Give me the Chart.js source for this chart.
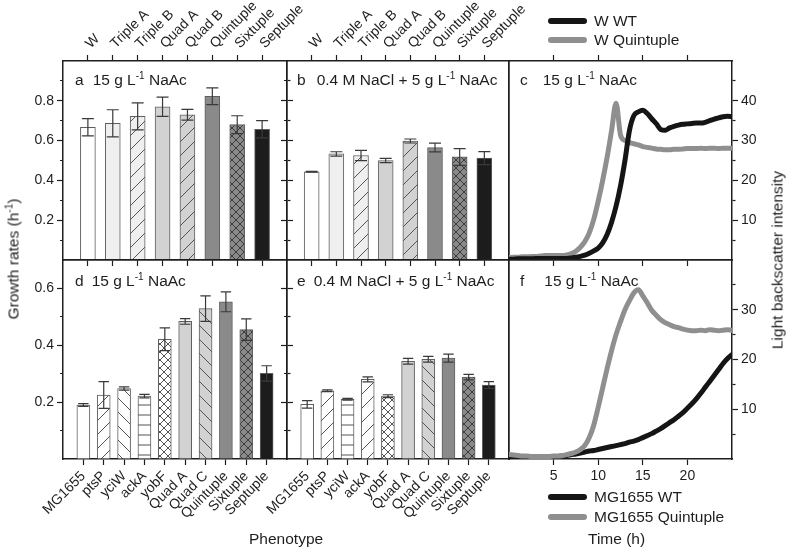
<!DOCTYPE html>
<html>
<head>
<meta charset="utf-8">
<script src="https://cdn.jsdelivr.net/npm/chart.js@4/dist/chart.umd.min.js"></script>
<style>
  body { margin: 0; background: #fff; }
  #wrap { position: relative; width: 787px; height: 548px; font-family: 'Liberation Sans', Arial, sans-serif; color: #1e1e1e; }
  #wrap canvas { position: absolute; left: 0; top: 0; }
  .txt { position: absolute; font-size: 15.5px; line-height: 17px; white-space: nowrap; }
  .txt sup { font-size: 10px; vertical-align: 6px; line-height: 0; }
  .vert { transform: translate(-50%, -50%) rotate(-90deg); }
  .sw { position: absolute; width: 39px; height: 6px; border-radius: 3px; }
</style>
</head>
<body>
<div id="wrap">
  <canvas id="pa" width="787" height="548"></canvas>
  <canvas id="pb" width="787" height="548"></canvas>
  <canvas id="pc" width="787" height="548"></canvas>
  <canvas id="pd" width="787" height="548"></canvas>
  <canvas id="pe" width="787" height="548"></canvas>
  <canvas id="pf" width="787" height="548"></canvas>

  <div class="txt" style="left:75px;top:71px">a<span style="margin-left:9px">15 g L<sup>-1</sup> NaAc</span></div>
  <div class="txt" style="left:297px;top:71px">b<span style="margin-left:11px">0.4 M NaCl + 5 g L<sup>-1</sup> NaAc</span></div>
  <div class="txt" style="left:520px;top:71px">c<span style="margin-left:15px">15 g L<sup>-1</sup> NaAc</span></div>
  <div class="txt" style="left:75px;top:272px">d<span style="margin-left:8px">15 g L<sup>-1</sup> NaAc</span></div>
  <div class="txt" style="left:297px;top:272px">e<span style="margin-left:8px">0.4 M NaCl + 5 g L<sup>-1</sup> NaAc</span></div>
  <div class="txt" style="left:520px;top:272px">f<span style="margin-left:20px">15 g L<sup>-1</sup> NaAc</span></div>

  <div class="sw" style="left:548px;top:18px;background:#151515"></div>
  <div class="txt" style="left:594px;top:12px">W WT</div>
  <div class="sw" style="left:548px;top:37px;background:#8f8f8f"></div>
  <div class="txt" style="left:594px;top:31px">W Quintuple</div>

  <div class="sw" style="left:548px;top:494px;background:#151515"></div>
  <div class="txt" style="left:594px;top:488px">MG1655 WT</div>
  <div class="sw" style="left:548px;top:514px;background:#8f8f8f"></div>
  <div class="txt" style="left:594px;top:508px">MG1655 Quintuple</div>

  <div class="txt" style="left:588px;top:530px">Time (h)</div>
  <div class="txt" style="left:249px;top:530px">Phenotype</div>
  <div class="txt vert" style="left:13px;top:259px">Growth rates (h<sup>-1</sup>)</div>
  <div class="txt vert" style="left:777px;top:260px">Light backscatter intensity</div>
</div>

<script>
// strains of the W background (panels a, b)
const strainsW = ['W', 'Triple A', 'Triple B', 'Quad A', 'Quad B', 'Quintuple', 'Sixtuple', 'Septuple'];
const rateA = [0.667, 0.687, 0.722, 0.770, 0.730, 0.823, 0.680, 0.657];
const errA  = [0.043, 0.068, 0.068, 0.048, 0.027, 0.042, 0.045, 0.043];
const rateB = [0.443, 0.533, 0.525, 0.500, 0.598, 0.565, 0.518, 0.512];
const errB  = [0.002, 0.011, 0.026, 0.011, 0.010, 0.022, 0.042, 0.033];

// strains of the MG1655 background (panels d, e)
const strainsMG = ['MG1655', 'ptsP', 'yciW', 'ackA', 'yobF', 'Quad A', 'Quad C', 'Quintuple', 'Sixtuple', 'Septuple'];
const rateD = [0.190, 0.225, 0.248, 0.221, 0.421, 0.484, 0.529, 0.553, 0.455, 0.301];
const errD  = [0.005, 0.047, 0.006, 0.006, 0.040, 0.010, 0.045, 0.035, 0.038, 0.027];
const rateE = [0.192, 0.240, 0.210, 0.280, 0.221, 0.344, 0.351, 0.355, 0.288, 0.260];
const errE  = [0.013, 0.003, 0.003, 0.009, 0.005, 0.010, 0.010, 0.014, 0.010, 0.012];

// backscatter curves (panels c, f)
const hours = [0, 0.5, 1, 1.5, 2, 2.5, 3, 3.5, 4, 4.5, 5, 5.5, 6, 6.5, 7, 7.5, 8, 8.5, 9, 9.5,
  10, 10.5, 11, 11.5, 12, 12.5, 13, 13.5, 14, 14.5, 15, 15.5, 16, 16.5, 17, 17.5, 18, 18.5, 19, 19.5,
  20, 20.5, 21, 21.5, 22, 22.5, 23, 23.5, 24, 24.5, 25];
const wWT = [0.2, 0.2, 0.3, 0.3, 0.3, 0.3, 0.4, 0.4, 0.4, 0.4, 0.4, 0.4, 0.4, 0.4, 0.5, 0.7, 0.9, 1.2, 1.7, 2.3,
  3.0, 4.3, 6.4, 9.5, 13.5, 18.6, 25.0, 32.5, 36.3, 37.2, 37.6, 36.8, 35.5, 34.3, 32.8, 32.6, 33.2, 33.6, 33.9, 34.1,
  34.2, 34.3, 34.4, 34.4, 34.6, 35.0, 35.4, 35.7, 36.0, 36.1, 36.0];
const wQuint = [0.6, 0.7, 0.7, 0.8, 0.8, 0.9, 0.9, 1.0, 1.1, 1.1, 1.1, 1.1, 1.1, 1.3, 1.6, 2.2, 3.2, 4.6, 6.8, 10.2,
  14.8, 20.0, 25.8, 32.5, 39.4, 31.4, 30.0, 29.5, 29.2, 28.9, 28.5, 28.3, 28.1, 27.9, 27.8, 27.7, 27.7, 27.8, 27.8, 27.9,
  28.0, 28.0, 28.0, 28.1, 28.0, 28.1, 28.1, 28.0, 28.1, 28.1, 28.1];
const mgWT = [0.3, 0.3, 0.3, 0.3, 0.3, 0.3, 0.3, 0.4, 0.4, 0.4, 0.4, 0.5, 0.6, 0.7, 0.9, 1.0, 1.2, 1.4, 1.6, 1.7,
  1.9, 2.1, 2.3, 2.5, 2.7, 2.9, 3.1, 3.4, 3.6, 3.9, 4.3, 4.7, 5.1, 5.6, 6.1, 6.7, 7.3, 7.9, 8.6, 9.3,
  10.2, 11.1, 12.1, 13.2, 14.4, 15.6, 16.8, 18.0, 19.2, 20.2, 21.0];
const mgQuint = [0.9, 0.8, 0.7, 0.6, 0.6, 0.5, 0.5, 0.5, 0.5, 0.5, 0.6, 0.6, 0.7, 0.9, 1.1, 1.4, 1.9, 2.7, 4.3, 6.8,
  10.4, 14.3, 18.2, 21.8, 25.0, 27.6, 30.0, 31.8, 33.4, 34.0, 32.8, 31.4, 29.9, 28.9, 28.0, 27.4, 27.0, 26.6, 26.4, 26.1,
  25.9, 25.8, 25.8, 25.9, 25.8, 26.0, 25.9, 25.8, 25.9, 26.0, 25.9];

// bar fills: "tone hatch"
const fillsW = ['white', 'pale', 'pale /', 'light', 'light /', 'dark', 'dark x', 'black'];
const fillsD = ['white', 'white /', 'white \\', 'white =', 'white x', 'light', 'light \\', 'dark', 'dark x', 'black'];
const fillsE = ['white', 'white /', 'white =', 'white /', 'white x', 'light', 'light \\', 'dark', 'dark x', 'black'];

const W = 787, H = 548;
const INK = '#1e1e1e';
Chart.defaults.font.family = "'Liberation Sans', Arial, sans-serif";
Chart.defaults.font.size = 14;
Chart.defaults.color = INK;

const tones = { white: '#ffffff', pale: '#efefef', light: '#d2d2d2', dark: '#8a8a8a', black: '#1c1c1c' };

function hatch(bg, mark, ink) {
  const s = mark === 'x' ? 8 : mark === '=' ? 10 : 14;
  const c = document.createElement('canvas');
  c.width = c.height = s;
  const g = c.getContext('2d');
  g.fillStyle = bg;
  g.fillRect(0, 0, s, s);
  g.strokeStyle = ink;
  g.lineWidth = 1;
  g.beginPath();
  if (mark === '/' || mark === 'x') {
    g.moveTo(-1, s + 1); g.lineTo(s + 1, -1);
    g.moveTo(-1, 1); g.lineTo(1, -1);
    g.moveTo(s - 1, s + 1); g.lineTo(s + 1, s - 1);
  }
  if (mark === '\\' || mark === 'x') {
    g.moveTo(-1, -1); g.lineTo(s + 1, s + 1);
    g.moveTo(s - 1, -1); g.lineTo(s + 1, 1);
    g.moveTo(-1, s - 1); g.lineTo(1, s + 1);
  }
  if (mark === '=') { g.moveTo(0, s / 2); g.lineTo(s, s / 2); }
  g.stroke();
  return g.createPattern(c, 'repeat');
}

function fillFor(key) {
  const [tone, mark] = key.split(' ');
  if (!mark) return tones[tone];
  return hatch(tones[tone], mark, tone === 'dark' ? '#3c3c3c' : '#555');
}

// error bars drawn from the dataset values through the scales
const errorBars = {
  id: 'errorBars',
  afterDatasetsDraw(chart) {
    const ds = chart.data.datasets[0];
    if (!ds.errors) return;
    const { ctx } = chart;
    const x = chart.scales.x, y = chart.scales.y;
    const meta = chart.getDatasetMeta(0);
    ctx.save();
    ctx.strokeStyle = '#3a3a3a';
    ctx.lineWidth = 1.2;
    meta.data.forEach((bar, i) => {
      const v = ds.data[i].y, e = ds.errors[i];
      const px = x.getPixelForValue(ds.data[i].x);
      const top = y.getPixelForValue(v + e), bot = y.getPixelForValue(v - e);
      const w = bar.width * 0.4;
      ctx.beginPath();
      ctx.moveTo(px, top); ctx.lineTo(px, bot);
      ctx.moveTo(px - w, top); ctx.lineTo(px + w, top);
      ctx.moveTo(px - w, bot); ctx.lineTo(px + w, bot);
      ctx.stroke();
    });
    ctx.restore();
  }
};

// one axis per side: frame line, tick marks (minor ones shortened with a dash) and labels
function axis(position, min, max, step, o = {}) {
  const inside = v => v > min + 1e-6 && v < max - 1e-6;
  const marked = v => o.mark !== false && inside(v);
  const major = v => !o.major || Math.abs(v / o.major - Math.round(v / o.major)) < 1e-6;
  const outerFirst = position === 'left' || position === 'top';
  return {
    type: 'linear', position, min, max, offset: false,
    afterFit: s => { if (s.isHorizontal()) s.height = o.size || 0; else s.width = o.size || 0; },
    border: { display: true, color: INK, width: 1.5 },
    grid: {
      drawOnChartArea: false, offset: false, tickLength: 6, tickWidth: 1.2,
      tickColor: c => (c.tick && marked(c.tick.value)) ? INK : 'rgba(0,0,0,0)',
      tickBorderDash: c => (c.tick && !major(c.tick.value)) ? (outerFirst ? [0, 3, 20, 0] : [3, 20]) : []
    },
    ticks: {
      display: !!o.fmt, stepSize: step, autoSkip: false, padding: 3, color: INK,
      minRotation: o.rot || 0, maxRotation: o.rot || 0, labelOffset: o.shift || 0,
      callback: v => (o.fmt && marked(v) && major(v)) ? o.fmt(v) : ''
    }
  };
}

// box = [left, top, right, bottom] of the plot frame; sz = room taken by labelled axes
function frame(box, sz) {
  return {
    responsive: false,
    animation: false,
    events: [],
    layout: { padding: {
      left: box[0] - (sz.left || 0), top: box[1] - (sz.top || 0),
      right: W - box[2] - (sz.right || 0), bottom: H - box[3] - (sz.bottom || 0)
    } },
    plugins: { legend: { display: false }, tooltip: { enabled: false } }
  };
}

function barPanel(id, box, cats, rates, errs, fills, yMax, barW, o) {
  const n = cats.length;
  const dec = v => v.toFixed(1);
  const name = v => cats[v] || '';
  const sz = {
    left: o.yLabels ? box[0] : 0,
    top: o.topLabels ? box[1] : 0,
    bottom: o.bottomLabels ? H - box[3] : 0
  };
  return new Chart(document.getElementById(id), {
    type: 'bar',
    data: {
      datasets: [{
        xAxisID: 'x', yAxisID: 'y',
        data: rates.map((v, i) => ({ x: i, y: v })),
        errors: errs,
        backgroundColor: fills.map(fillFor),
        borderColor: '#5f5f5f',
        borderWidth: 1,
        barThickness: barW
      }]
    },
    options: Object.assign(frame(box, sz), {
      scales: {
        x: axis('bottom', -1, n, 1, { mark: o.bottomTicks, fmt: o.bottomLabels ? name : null, rot: 45, size: sz.bottom }),
        y: axis('left', 0, yMax, 0.1, { major: 0.2, fmt: o.yLabels ? dec : null, size: sz.left }),
        xTop: axis('top', -1, n, 1, { mark: o.topTicks, fmt: o.topLabels ? name : null, rot: 45, size: sz.top, shift: 12 }),
        yR: axis('right', 0, yMax, 0.1, { major: 0.2, mark: o.rightTicks })
      }
    }),
    plugins: [errorBars]
  });
}

function linePanel(id, box, yMax, series, o) {
  const sz = { right: W - box[2], bottom: o.bottomLabels ? H - box[3] : 0 };
  return new Chart(document.getElementById(id), {
    type: 'line',
    data: {
      datasets: series.map(s => ({
        xAxisID: 'x', yAxisID: 'y',
        data: hours.map((t, i) => ({ x: t, y: s.values[i] })),
        borderColor: s.color,
        borderWidth: 5,
        pointRadius: 0,
        cubicInterpolationMode: 'monotone',
        borderCapStyle: 'round',
        borderJoinStyle: 'round',
        order: s.order
      }))
    },
    options: Object.assign(frame(box, sz), {
      scales: {
        x: axis('bottom', 0, 25, 5, { mark: o.bottomTicks, fmt: o.bottomLabels ? v => String(v) : null, size: sz.bottom }),
        y: axis('right', 0, yMax, 5, { major: 10, fmt: v => String(v), size: sz.right }),
        xTop: axis('top', 0, 25, 5, { mark: o.topTicks }),
        yL: axis('left', 0, yMax, 10, { mark: false })
      }
    })
  });
}

barPanel('pa', [63, 61, 287, 260], strainsW, rateA, errA, fillsW, 1.0, 15,
  { bottomTicks: true, topTicks: true, topLabels: true, yLabels: true, rightTicks: true });
barPanel('pb', [287, 61, 509, 260], strainsW, rateB, errB, fillsW, 1.0, 15,
  { bottomTicks: true, topTicks: true, topLabels: true, yLabels: false, rightTicks: false });
barPanel('pd', [63, 260, 287, 459], strainsMG, rateD, errD, fillsD, 0.7, 13,
  { bottomTicks: true, bottomLabels: true, topTicks: false, yLabels: true, rightTicks: true });
barPanel('pe', [287, 260, 509, 459], strainsMG, rateE, errE, fillsE, 0.7, 13,
  { bottomTicks: true, bottomLabels: true, topTicks: false, yLabels: false, rightTicks: false });

linePanel('pc', [509, 61, 732, 260], 50, [
  { values: wWT, color: '#151515', order: 0 },
  { values: wQuint, color: '#8f8f8f', order: 1 }
], { bottomTicks: true, topTicks: true });
linePanel('pf', [509, 260, 732, 459], 40, [
  { values: mgWT, color: '#151515', order: 1 },
  { values: mgQuint, color: '#8f8f8f', order: 0 }
], { bottomTicks: true, bottomLabels: true, topTicks: false });
</script>
</body>
</html>
